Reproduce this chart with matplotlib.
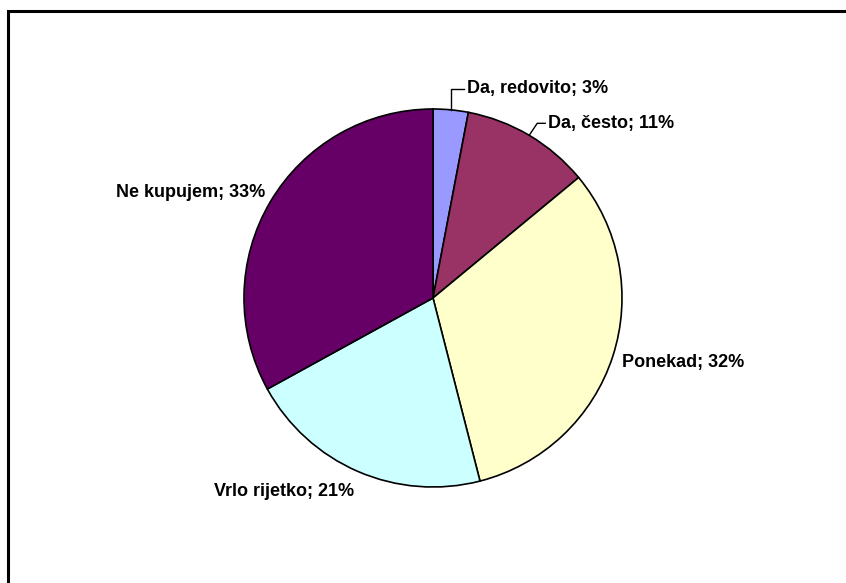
import numpy as np
import matplotlib
matplotlib.use("Agg")
import matplotlib.pyplot as plt

# ==========================
# Data
# ==========================
kategori = ["Da, redovito", "Da, često", "Ponekad", "Vrlo rijetko", "Ne kupujem"]
nilai = [3, 11, 32, 21, 33]
warna = ["#9999FF", "#993366", "#FFFFCC", "#CCFFFF", "#660066"]

plt.rcParams["font.family"] = ["Liberation Sans", "DejaVu Sans"]

W, H = 846, 583
fig = plt.figure(figsize=(W / 100, H / 100), dpi=100)
ax = fig.add_axes([0, 0, 1, 1])

# frame (only top and left visible in the original)
ax.plot([8, 8, W + 5], [-5, H - 11, H - 11], color="black", lw=2.2,
        solid_joinstyle="miter")

cx, cy, r = 433, H - 298, 189
wedges, _ = ax.pie(
    nilai,
    colors=warna,
    startangle=90,
    counterclock=False,
    center=(cx, cy),
    radius=r,
    wedgeprops=dict(edgecolor="black", linewidth=1.2),
    frame=True,
)
ax.set_xlim(0, W)
ax.set_ylim(0, H)
ax.set_aspect("equal")
ax.axis("off")

# posisi label relatif terhadap tepi irisan (dx, dy dalam px), alignment, jenis garis
offset = [
    (16, 21, "left", "siku"),
    (19, 12, "left", "miring"),
    (9, -6, "left", None),
    (-4, -20, "right", None),
    (-5, 9, "right", None),
]

for w, nama, v, (dx, dy, ha, garis) in zip(wedges, kategori, nilai, offset):
    mid = np.deg2rad((w.theta1 + w.theta2) / 2)
    ex = cx + r * np.cos(mid)
    ey = cy + r * np.sin(mid)
    tx, ty = ex + dx, ey + dy
    if garis == "siku":
        ax.plot([ex, ex, tx - 3], [ey, ty, ty], color="black", lw=1)
    elif garis == "miring":
        ax.plot([ex, tx - 11, tx - 3], [ey, ty, ty], color="black", lw=1)
    ax.text(tx, ty, f"{nama}; {v}%", ha=ha, va="center",
            fontsize=13, fontweight="bold")

fig.savefig("out.png", dpi=100)
